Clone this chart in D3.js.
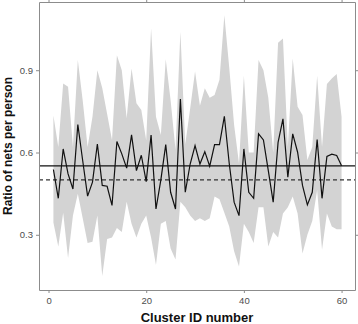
<!DOCTYPE html>
<html>
<head>
<meta charset="utf-8">
<script src="https://cdn.jsdelivr.net/npm/d3@7"></script>
<style>
  body { margin: 0; background: #fff; }
  svg { display: block; font-family: "Liberation Sans", Arial, sans-serif; }
</style>
</head>
<body>
<svg id="chart" width="358" height="324"></svg>
<script>
// cluster ids, observed ratio and the grey band (upper / lower limits)
var clusterIds = d3.range(1, 61)
var ratio = [0.538, 0.433, 0.613, 0.522, 0.467, 0.702, 0.57, 0.441, 0.492, 0.631,
             0.48, 0.477, 0.407, 0.64, 0.595, 0.543, 0.664, 0.534, 0.59, 0.494,
             0.664, 0.394, 0.50, 0.629, 0.455, 0.394, 0.795, 0.455, 0.558, 0.625,
             0.558, 0.603, 0.55, 0.629, 0.629, 0.732, 0.56, 0.419, 0.37, 0.613,
             0.455, 0.433, 0.668, 0.646, 0.534, 0.419, 0.637, 0.723, 0.51, 0.668,
             0.601, 0.48, 0.409, 0.455, 0.647, 0.433, 0.586, 0.594, 0.589, 0.552]
var upper = [0.735, 0.62, 0.852, 0.84, 0.62, 0.937, 0.79, 0.62, 0.73, 0.90,
             0.835, 0.74, 0.645, 0.955, 0.90, 0.725, 0.906, 0.78, 0.755, 0.645,
             1.053, 0.73, 0.664, 0.94, 0.79, 0.61, 1.04, 0.63, 0.76, 0.895,
             0.77, 0.834, 0.80, 0.81, 0.865, 1.10, 0.91, 0.70, 0.56, 0.88,
             0.60, 0.60, 0.937, 0.90, 0.80, 0.60, 1.0, 1.016, 0.62, 0.943,
             0.767, 0.737, 0.573, 0.62, 0.88, 0.62, 0.85, 0.87, 0.886, 0.73]
var lower = [0.345, 0.257, 0.38, 0.215, 0.37, 0.45, 0.36, 0.27, 0.275, 0.37,
             0.15, 0.285, 0.29, 0.325, 0.31, 0.42, 0.34, 0.29, 0.34, 0.37,
             0.29, 0.19, 0.34, 0.35, 0.25, 0.21, 0.42, 0.40, 0.37, 0.35,
             0.36, 0.35, 0.36, 0.44, 0.43, 0.38, 0.33, 0.24, 0.184, 0.34,
             0.31, 0.27, 0.40, 0.40, 0.257, 0.31, 0.29, 0.378, 0.40, 0.44,
             0.378, 0.232, 0.30, 0.35, 0.463, 0.245, 0.378, 0.33, 0.32, 0.32]
var meanRatio = 0.551
var targetRatio = 0.5
var xTicks = [0, 20, 40, 60]
var yTicks = [0.3, 0.6, 0.9]

var svg = d3.select("#chart"),
    margin = {top: 2, right: 3, bottom: 34, left: 39},
    width = 358 - margin.left - margin.right,
    height = 324 - margin.top - margin.bottom,
    g = svg.append("g").attr("transform", "translate(" + margin.left + "," + margin.top + ")")

var x = d3.scaleLinear()
  .domain([-1.95, 62.75])
  .range([0, width])

var y = d3.scaleLinear()
  .domain([0.0987, 1.1487])
  .range([height, 0])

var rows = clusterIds.map(function(id, i){
  return {id: id, ratio: ratio[i], hi: upper[i], lo: lower[i]}
})

// grey band
var band = d3.area()
  .x(function(d) { return x(d.id) })
  .y0(function(d) { return y(d.lo) })
  .y1(function(d) { return y(d.hi) })

g.append("path")
  .datum(rows)
  .attr("fill", "#d3d3d3")
  .attr("d", band)

// reference lines
g.append("line")
  .attr("x1", 0).attr("x2", width)
  .attr("y1", y(meanRatio)).attr("y2", y(meanRatio))
  .attr("stroke", "#111")
  .attr("stroke-width", 1.3)

g.append("line")
  .attr("x1", 0).attr("x2", width)
  .attr("y1", y(targetRatio)).attr("y2", y(targetRatio))
  .attr("stroke", "#333")
  .attr("stroke-width", 1.2)
  .attr("stroke-dasharray", "4,3")

// ratio per cluster
var line = d3.line()
  .x(function(d) { return x(d.id) })
  .y(function(d) { return y(d.ratio) })

g.append("path")
  .datum(rows)
  .attr("fill", "none")
  .attr("stroke", "#111")
  .attr("stroke-width", 1.2)
  .attr("stroke-linejoin", "miter")
  .attr("d", line)

// axes on all four sides
function styleAxis(sel){
  sel.select(".domain").attr("stroke", "#8c8c8c")
  sel.selectAll(".tick line").attr("stroke", "#8c8c8c")
  sel.selectAll(".tick text").attr("fill", "#4d4d4d").style("font-size", "9.5px")
}

g.append("g").attr("transform", "translate(0," + height + ")")
  .call(d3.axisBottom(x).tickValues(xTicks).tickSize(3).tickSizeOuter(0).tickPadding(4))
  .call(styleAxis)

g.append("g")
  .call(d3.axisLeft(y).tickValues(yTicks).tickFormat(d3.format(".1f")).tickSize(3).tickSizeOuter(0).tickPadding(3))
  .call(styleAxis)

g.append("g")
  .call(d3.axisTop(x).tickValues(xTicks).tickSize(3).tickSizeOuter(0).tickFormat(""))
  .call(styleAxis)

g.append("g").attr("transform", "translate(" + width + ",0)")
  .call(d3.axisRight(y).tickValues(yTicks).tickSize(3).tickSizeOuter(0).tickFormat(""))
  .call(styleAxis)

// titles
svg.append("text")
  .attr("x", margin.left + width / 2)
  .attr("y", 322)
  .attr("text-anchor", "middle")
  .attr("font-weight", "bold")
  .attr("font-size", "13px")
  .attr("fill", "#111")
  .text("Cluster ID number")

svg.append("text")
  .attr("transform", "translate(12," + (margin.top + height / 2) + ") rotate(-90)")
  .attr("text-anchor", "middle")
  .attr("font-weight", "bold")
  .attr("font-size", "12px")
  .attr("fill", "#111")
  .text("Ratio of nets per person")
</script>
</body>
</html>
